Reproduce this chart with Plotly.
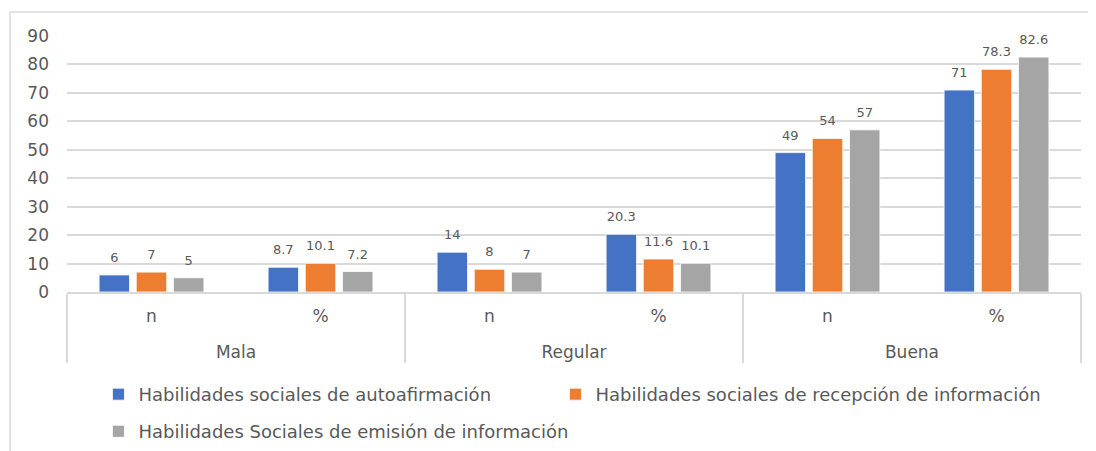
import plotly.graph_objects as go

groups = ["Mala", "Mala", "Regular", "Regular", "Buena", "Buena"]
subs = ["n", "%", "n", "%", "n", "%"]

series_names = [
    "Habilidades sociales de autoafirmación",
    "Habilidades sociales de recepción de información",
    "Habilidades Sociales de emisión de información",
]
autoafirmacion = [6, 8.7, 14, 20.3, 49, 71]
recepcion = [7, 10.1, 8, 11.6, 54, 78.3]
emision = [5, 7.2, 7, 10.1, 57, 82.6]
colors = ["#4472C4", "#ED7D31", "#A5A5A5"]

y_ticks = [0, 10, 20, 30, 40, 50, 60, 70, 80, 90]

FONT = "DejaVu Sans"
GRAY = "#595959"
LINE = "#D9D9D9"

# inner labels get an empty second line so the group row sits lower, as in the reference
sub_labels = [s + "<br>\u00a0" for s in subs]
xcats = [groups, sub_labels]

legends = ["legend", "legend2", "legend3"]

fig = go.Figure()
for name, vals, col, lg in zip(series_names, [autoafirmacion, recepcion, emision], colors, legends):
    fig.add_trace(go.Bar(
        x=xcats, y=vals, name=name, legend=lg,
        marker=dict(color=col, line=dict(color="white", width=0.8)),
    ))
for vals in [autoafirmacion, recepcion, emision]:
    fig.add_trace(go.Scatter(
        x=xcats, y=vals, mode="markers+text", showlegend=False, hoverinfo="skip",
        marker=dict(size=14, opacity=0, color="white"),
        text=[f"{v:g}" for v in vals], textposition="top center",
        textfont=dict(family=FONT, size=13, color=GRAY),
        cliponaxis=False,
    ))

legend_common = dict(
    orientation="h", xanchor="left", yanchor="top",
    font=dict(family=FONT, size=18, color=GRAY),
    itemwidth=30, bgcolor="rgba(0,0,0,0)",
)

fig.update_layout(
    width=1088, height=443,
    margin=dict(l=59, r=15, t=28, b=159, autoexpand=False),
    paper_bgcolor="white", plot_bgcolor="white",
    barmode="group", bargap=0.34, bargroupgap=0.18,
    scattermode="group", scattergap=0.34,
    font=dict(family=FONT, color=GRAY),
    showlegend=True,
    legend=dict(x=0.031, y=-0.328, **legend_common),
    legend2=dict(x=0.4817, y=-0.328, **legend_common),
    legend3=dict(x=0.031, y=-0.473, **legend_common),
    yaxis=dict(
        range=[0, 90], tickvals=y_ticks, showgrid=True, gridcolor=LINE,
        gridwidth=1.5, zeroline=False, showline=False, automargin=False,
        tickfont=dict(family=FONT, size=17, color=GRAY), ticks="",
        ticklabelstandoff=17,
    ),
    xaxis=dict(
        type="multicategory", showline=True, linecolor=LINE, linewidth=1.5,
        showdividers=True, dividercolor=LINE, dividerwidth=1.5, automargin=False,
        tickfont=dict(family=FONT, size=17, color=GRAY), ticks="",
        ticklabelstandoff=8,
    ),
    shapes=[
        dict(type="line", xref="paper", yref="paper", x0=-0.0562, x1=1.02, y0=1.094, y1=1.094,
             line=dict(color=LINE, width=1.5)),
        dict(type="line", xref="paper", yref="paper", x0=-0.0562, x1=-0.0562, y0=1.094, y1=-0.65,
             line=dict(color=LINE, width=1.5)),
    ],
)

fig.write_html("out.html")
